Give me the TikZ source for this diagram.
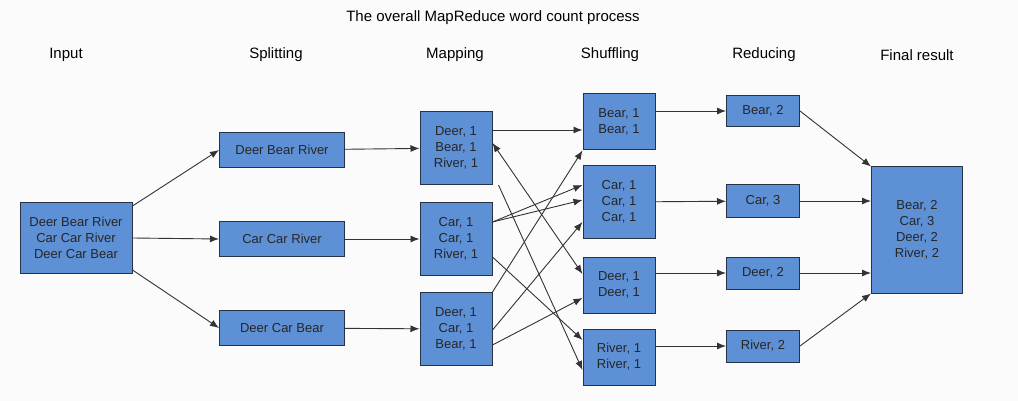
\documentclass[tikz,border=0pt]{standalone}
\usepackage{fontspec}
\usetikzlibrary{arrows.meta}
\setmainfont{Liberation Sans}
\definecolor{bx}{RGB}{94,144,214}
\definecolor{bd}{RGB}{40,50,70}
\begin{document}
\begin{tikzpicture}[x=1pt,y=-1pt,
 box/.style={draw=bd,fill=bx,line width=1pt,inner sep=0pt,align=center,font=\fontsize{13}{16}\selectfont,text=black!85},
 hd/.style={font=\fontsize{15}{17}\selectfont},
 ar/.style={-{Latex[length=9pt,width=7pt]},line width=0.9pt,draw=black!80}]
\useasboundingbox (0,0) rectangle (1018,401);
\fill[white!97!gray] (0,0) rectangle (1018,401);
\node[hd] (title) at (493,18) {The overall MapReduce word count process};
\node[hd] (h1) at (66,55) {Input};
\node[hd] (h2) at (276,55) {Splitting};
\node[hd] (h3) at (455,55) {Mapping};
\node[hd] (h4) at (610,55) {Shuffling};
\node[hd] (h5) at (764,55) {Reducing};
\node[hd] (h6) at (917,55) {Final result};
\node[box,minimum width=112,minimum height=70] (in) at (76,238) {Deer Bear River\\Car Car River\\Deer Car Bear};
\node[box,minimum width=125,minimum height=35] (s1) at (282,150) {Deer Bear River};
\node[box,minimum width=125,minimum height=35] (s2) at (282,239) {Car Car River};
\node[box,minimum width=125,minimum height=35] (s3) at (282,328) {Deer Car Bear};
\node[box,minimum width=72,minimum height=73] (m1) at (456,148) {Deer, 1\\Bear, 1\\River, 1};
\node[box,minimum width=72,minimum height=73] (m2) at (456,239) {Car, 1\\Car, 1\\River, 1};
\node[box,minimum width=72,minimum height=73] (m3) at (456,329) {Deer, 1\\Car, 1\\Bear, 1};
\node[box,minimum width=72,minimum height=56] (h1b) at (619,122) {Bear, 1\\Bear, 1};
\node[box,minimum width=72,minimum height=72] (h2b) at (619,202) {Car, 1\\Car, 1\\Car, 1};
\node[box,minimum width=72,minimum height=56] (h3b) at (619,285) {Deer, 1\\Deer, 1};
\node[box,minimum width=72,minimum height=56] (h4b) at (619,357) {River, 1\\River, 1};
\node[box,minimum width=73,minimum height=31] (r1) at (763,111) {Bear, 2};
\node[box,minimum width=73,minimum height=32] (r2) at (763,201) {Car, 3};
\node[box,minimum width=73,minimum height=32] (r3) at (763,273) {Deer, 2};
\node[box,minimum width=73,minimum height=32] (r4) at (763,346) {River, 2};
\node[box,minimum width=91,minimum height=126] (fin) at (917,230) {Bear, 2\\Car, 3\\Deer, 2\\River, 2};
\draw[ar] (in.east |- 0,206) -- (s1.west);
\draw[ar] (in.east) -- (s2.west);
\draw[ar] (in.east |- 0,270) -- (s3.west);
\draw[ar] (s1) -- (m1);
\draw[ar] (s2) -- (m2);
\draw[ar] (s3) -- (m3);
\draw[ar] (m1.east |- 0,130) -- (h1b.west |- 0,130);
\draw[{Latex[length=9pt,width=7pt]}-{Latex[length=9pt,width=7pt]},line width=0.9pt,draw=black!80] (m1.east |- 0,143) -- (h3b.west |- 0,274);
\draw[ar] (m1.south east) ++(6,0) -- (h4b.west |- 0,370);
\draw[ar] (m2.east |- 0,222) -- (h2b.west |- 0,185);
\draw[ar] (m2.east |- 0,222) -- (h2b.west |- 0,200);
\draw[ar] (m2.east |- 0,257) -- (h4b.west |- 0,340);
\draw[ar] (m3.north east) -- (h1b.south west);
\draw[ar] (m3.east |- 0,330) -- (h2b.west |- 0,222);
\draw[ar] (m3.east |- 0,345) -- (h3b.west |- 0,298);
\draw[ar] (h1b.east |- r1) -- (r1);
\draw[ar] (h2b) -- (r2);
\draw[ar] (h3b.east |- r3) -- (r3);
\draw[ar] (h4b.east |- r4) -- (r4);
\draw[ar] (r1.east) -- (fin.north west);
\draw[ar] (r2) -- (r2 -| fin.west);
\draw[ar] (r3) -- (r3 -| fin.west);
\draw[ar] (r4.east) -- (fin.south west);
\end{tikzpicture}
\end{document}
